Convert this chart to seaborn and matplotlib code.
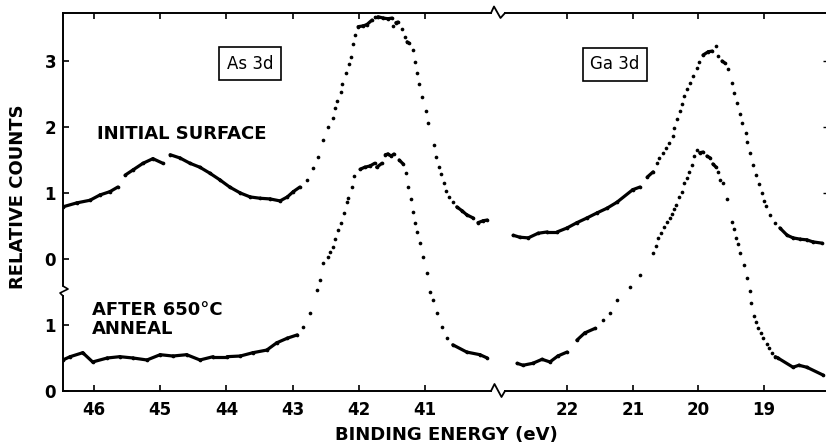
import numpy as np
import pandas as pd
import matplotlib
matplotlib.use("Agg")
import matplotlib.pyplot as plt
from matplotlib.collections import LineCollection
from matplotlib.lines import Line2D
import seaborn as sns

# ---- As 3d region ----------------------------------------------------------
as_energy_initial = [46.47, 46.26, 46.06, 45.91, 45.76, 45.64, 45.53, 45.41, 45.26, 45.11,
                     44.96, 44.85, 44.70, 44.55, 44.40, 44.25, 44.10, 43.95, 43.79, 43.64,
                     43.49, 43.34, 43.19, 43.08, 42.99, 42.89, 42.78, 42.69, 42.62, 42.54,
                     42.47, 42.39, 42.36, 42.33, 42.27, 42.25, 42.19, 42.15, 42.12, 42.09,
                     42.06, 42.01, 41.94, 41.88, 41.80, 41.76, 41.71, 41.63, 41.56, 41.50,
                     41.48, 41.44, 41.41, 41.35, 41.30, 41.27, 41.24, 41.18, 41.15, 41.12,
                     41.09, 41.05, 40.98, 40.95, 40.86, 40.83, 40.79, 40.76, 40.71, 40.68,
                     40.64, 40.58, 40.52, 40.44, 40.37, 40.27, 40.20, 40.12, 40.06]
as_counts_initial = [0.79, 0.85, 0.89, 0.97, 1.02, 1.09, 1.27, 1.35, 1.45, 1.52,
                     1.45, 1.58, 1.53, 1.45, 1.39, 1.30, 1.20, 1.09, 1.00, 0.94,
                     0.92, 0.91, 0.88, 0.94, 1.02, 1.09, 1.20, 1.38, 1.55, 1.80,
                     2.00, 2.14, 2.29, 2.39, 2.53, 2.65, 2.82, 2.95, 3.06, 3.26,
                     3.39, 3.52, 3.53, 3.55, 3.62, 3.67, 3.67, 3.65, 3.64, 3.65,
                     3.53, 3.58, 3.59, 3.48, 3.36, 3.29, 3.27, 3.17, 2.98, 2.82,
                     2.65, 2.45, 2.24, 2.06, 1.73, 1.55, 1.39, 1.29, 1.15, 1.03,
                     0.94, 0.86, 0.79, 0.73, 0.67, 0.62, 0.55, 0.58, 0.59]

as_energy_anneal = [46.47, 46.36, 46.17, 46.02, 45.80, 45.61, 45.41, 45.20, 45.00, 44.81,
                    44.60, 44.40, 44.20, 43.99, 43.79, 43.60, 43.39, 43.24, 43.08, 42.93,
                    42.84, 42.74, 42.63, 42.59, 42.54, 42.47, 42.44, 42.39, 42.36, 42.31,
                    42.27, 42.22, 42.18, 42.16, 42.10, 42.07, 41.98, 41.91, 41.83, 41.76,
                    41.73, 41.65, 41.60, 41.56, 41.51, 41.47, 41.39, 41.33, 41.29, 41.26,
                    41.21, 41.18, 41.15, 41.12, 41.08, 41.03, 40.97, 40.92, 40.88, 40.82,
                    40.74, 40.67, 40.58, 40.37, 40.17, 40.06]
as_counts_anneal = [0.47, 0.52, 0.58, 0.44, 0.50, 0.52, 0.50, 0.47, 0.55, 0.53,
                    0.55, 0.47, 0.52, 0.52, 0.53, 0.58, 0.62, 0.73, 0.80, 0.85,
                    0.97, 1.18, 1.53, 1.68, 1.94, 2.03, 2.11, 2.18, 2.30, 2.44,
                    2.55, 2.70, 2.86, 2.92, 3.09, 3.26, 3.36, 3.39, 3.41, 3.45,
                    3.39, 3.45, 3.58, 3.59, 3.56, 3.59, 3.50, 3.44, 3.30, 3.09,
                    2.91, 2.71, 2.55, 2.41, 2.24, 2.03, 1.79, 1.50, 1.38, 1.18,
                    0.97, 0.80, 0.70, 0.59, 0.55, 0.50]

# ---- Ga 3d region ----------------------------------------------------------
ga_energy_initial = [22.82, 22.72, 22.59, 22.44, 22.30, 22.15, 22.00, 21.85, 21.70, 21.54,
                     21.39, 21.24, 21.00, 20.89, 20.78, 20.69, 20.63, 20.60, 20.54, 20.49,
                     20.45, 20.39, 20.37, 20.33, 20.28, 20.25, 20.22, 20.17, 20.13, 20.08,
                     20.02, 19.99, 19.93, 19.85, 19.79, 19.73, 19.70, 19.64, 19.60, 19.55,
                     19.49, 19.46, 19.41, 19.37, 19.34, 19.28, 19.26, 19.21, 19.17, 19.12,
                     19.08, 19.03, 19.00, 18.97, 18.91, 18.83, 18.76, 18.65, 18.56, 18.45,
                     18.35, 18.26, 18.12]
ga_counts_initial = [0.36, 0.33, 0.32, 0.39, 0.41, 0.41, 0.47, 0.55, 0.62, 0.70,
                     0.77, 0.86, 1.05, 1.09, 1.24, 1.32, 1.45, 1.53, 1.61, 1.68,
                     1.76, 1.86, 1.98, 2.12, 2.24, 2.35, 2.47, 2.58, 2.67, 2.77,
                     2.89, 2.98, 3.09, 3.14, 3.15, 3.23, 3.08, 3.00, 2.97, 2.88,
                     2.67, 2.52, 2.36, 2.20, 2.06, 1.91, 1.77, 1.61, 1.42, 1.27,
                     1.14, 1.00, 0.88, 0.80, 0.67, 0.55, 0.47, 0.36, 0.32, 0.30,
                     0.29, 0.26, 0.24]

ga_energy_anneal = [22.76, 22.67, 22.52, 22.38, 22.26, 22.14, 22.00, 21.85, 21.73, 21.57,
                    21.45, 21.35, 21.24, 21.04, 20.89, 20.69, 20.65, 20.61, 20.57, 20.52,
                    20.48, 20.43, 20.40, 20.37, 20.34, 20.30, 20.25, 20.22, 20.17, 20.14,
                    20.10, 20.07, 20.02, 19.98, 19.93, 19.87, 19.82, 19.78, 19.73, 19.70,
                    19.67, 19.63, 19.56, 19.49, 19.46, 19.43, 19.40, 19.37, 19.31, 19.26,
                    19.21, 19.20, 19.15, 19.12, 19.09, 19.05, 19.02, 18.96, 18.93, 18.88,
                    18.83, 18.79, 18.56, 18.47, 18.35, 18.10]
ga_counts_anneal = [0.42, 0.39, 0.42, 0.48, 0.44, 0.53, 0.59, 0.77, 0.88, 0.95,
                    1.08, 1.18, 1.38, 1.58, 1.76, 2.09, 2.20, 2.32, 2.39, 2.48,
                    2.56, 2.62, 2.68, 2.76, 2.82, 2.94, 3.02, 3.15, 3.23, 3.32,
                    3.42, 3.56, 3.65, 3.61, 3.62, 3.56, 3.53, 3.44, 3.39, 3.32,
                    3.20, 3.15, 2.91, 2.56, 2.45, 2.32, 2.23, 2.09, 1.91, 1.71,
                    1.52, 1.33, 1.14, 1.05, 0.95, 0.88, 0.80, 0.71, 0.65, 0.58,
                    0.52, 0.50, 0.36, 0.39, 0.36, 0.24]

# Initial-surface spectra use the upper scale, whose zero sits 2 units up.
UPPER_ZERO = 2.0

as_ticks = [46, 45, 44, 43, 42, 41]
ga_ticks = [22, 21, 20, 19]
y_ticks = [0, 1, 2, 3, 4, 5]
y_tick_labels = ["0", "1", "0", "1", "2", "3"]

# ---- long table ------------------------------------------------------------
def trace(energy, counts, region, name, offset):
    return pd.DataFrame({"energy": energy, "counts": counts,
                         "level": np.asarray(counts) + offset,
                         "region": region, "trace": name})

df = pd.concat([
    trace(as_energy_initial, as_counts_initial, "As", "As initial", UPPER_ZERO),
    trace(as_energy_anneal, as_counts_anneal, "As", "As anneal", 0.0),
    trace(ga_energy_initial, ga_counts_initial, "Ga", "Ga initial", UPPER_ZERO),
    trace(ga_energy_anneal, ga_counts_anneal, "Ga", "Ga anneal", 0.0),
], ignore_index=True)

sns.set_theme(style="white")
plt.rcParams["font.family"] = ["DejaVu Sans"]
plt.rcParams["font.weight"] = "bold"

W, H = 826, 447
fig = plt.figure(figsize=(W / 100, H / 100), dpi=100)
fig.patch.set_facecolor("white")


def px_rect(x0, x1, y_top, y_bot):
    return [x0 / W, 1 - y_bot / H, (x1 - x0) / W, (y_bot - y_top) / H]


Y_TOP = 5.727
ax_as = fig.add_axes(px_rect(63, 491, 13, 391))
ax_ga = fig.add_axes(px_rect(505, 827, 13, 391))
limits = {"As": (46.468, 40.003), "Ga": (22.944, 18.043)}


def draw_region(ax, region):
    sub = df[df["region"] == region]
    # flat stretches of the spectrum read as a continuous trace
    segs = []
    for _, t in sub.groupby("trace", sort=False):
        e = t["energy"].to_numpy()
        y = t["level"].to_numpy()
        for i in range(len(e) - 1):
            de = abs(e[i + 1] - e[i])
            if de > 0 and abs(y[i + 1] - y[i]) / de < 1.0:
                segs.append([(e[i], y[i]), (e[i + 1], y[i + 1])])
    ax.add_collection(LineCollection(segs, colors="black", linewidths=2.3,
                                     capstyle="round", zorder=2))
    sns.scatterplot(data=sub, x="energy", y="level", color="black", s=7,
                    linewidth=0, legend=False, ax=ax, zorder=3)
    ax.set_xlim(*limits[region])
    ax.set_ylim(0, Y_TOP)
    ax.set_xlabel("")
    ax.set_ylabel("")
    for sp in ax.spines.values():
        sp.set_color("black")
        sp.set_linewidth(1.4)
    ax.spines["right"].set_visible(False)


draw_region(ax_as, "As")
draw_region(ax_ga, "Ga")

# x ticks, top and bottom, pointing inward
for ax, ticks in ((ax_as, as_ticks), (ax_ga, ga_ticks)):
    ax.set_xticks(ticks)
    ax.set_xticklabels([str(t) for t in ticks])
    ax.tick_params(axis="x", which="major", direction="in", top=True, bottom=True,
                   length=4.5, width=1.2, color="black", labelsize=12, pad=7,
                   labelcolor="black")

# left scale with a break between the lower and upper zeros
ax_as.set_yticks(y_ticks)
ax_as.set_yticklabels(y_tick_labels)
ax_as.tick_params(axis="y", direction="in", left=True, right=False, length=4,
                  width=1.2, color="black", labelsize=12, pad=5, labelcolor="black")
ax_as.spines["left"].set_bounds(0, 1.44)
ytr = ax_as.get_yaxis_transform()
ax_as.add_line(Line2D([0, 0], [1.59, Y_TOP], transform=ytr, color="black",
                      lw=1.4, clip_on=False))
ax_as.add_line(Line2D([0, 5 / 428, -3 / 428, 0], [1.59, 1.545, 1.485, 1.44],
                      transform=ytr, color="black", lw=1.2, clip_on=False))

ax_ga.spines["left"].set_visible(False)
ax_ga.set_yticks([3, 4, 5])
ax_ga.yaxis.set_ticks_position("right")
ax_ga.tick_params(axis="y", direction="in", right=True, left=False, length=3,
                  width=1.0, color="black", labelright=False, labelleft=False)

# energy-axis break marks between the two regions
for xs, ys in (([491, 494.5, 501.5, 505], [391, 384, 397, 391]),
               ([491, 494, 500.5, 505], [13, 6.5, 18, 13])):
    fig.add_artist(Line2D([x / W for x in xs], [1 - y / H for y in ys],
                          transform=fig.transFigure, color="black", lw=1.3))

# annotations
ax_as.text(45.95, 3.90, "INITIAL SURFACE", fontsize=13, fontweight="bold",
           ha="left", va="center", color="black")
ax_as.text(46.03, 1.23, "AFTER 650°C", fontsize=13, fontweight="bold",
           ha="left", va="center", color="black")
ax_as.text(46.03, 0.94, "ANNEAL", fontsize=13, fontweight="bold",
           ha="left", va="center", color="black")
box = dict(boxstyle="square,pad=0.45", fc="white", ec="black", lw=1.2)
ax_as.text(43.64, 4.96, "As 3d", fontsize=12, fontweight="normal",
           ha="center", va="center", color="black", bbox=box)
ax_ga.text(21.27, 4.95, "Ga 3d", fontsize=12, fontweight="normal",
           ha="center", va="center", color="black", bbox=box)

fig.text(18 / W, 1 - 197 / H, "RELATIVE COUNTS", rotation=90, ha="center",
         va="center", fontsize=13, fontweight="bold", color="black")
fig.text(446 / W, 1 - 435 / H, "BINDING ENERGY (eV)", ha="center", va="center",
         fontsize=13, fontweight="bold", color="black")

fig.savefig("out.png", dpi=100, facecolor="white")
